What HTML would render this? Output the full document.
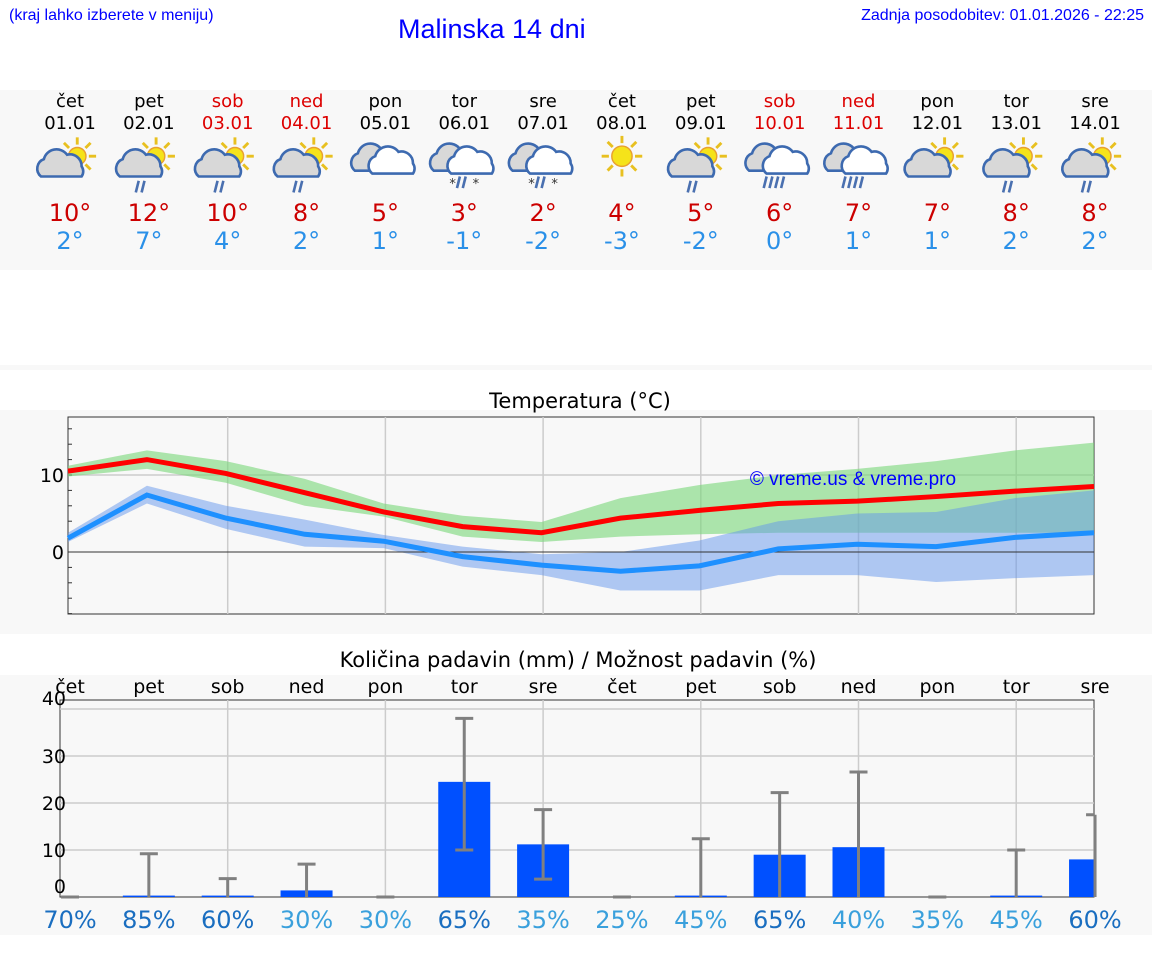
<!DOCTYPE html>
<html><head><meta charset="utf-8">
<style>
body{margin:0;width:1152px;height:975px;background:#fff;font-family:"DejaVu Sans","Liberation Sans",sans-serif;overflow:hidden;position:relative}
.abs{position:absolute}
</style></head>
<body>
<div class="abs" style="left:9px;top:7px;font-size:16px;color:#00f;font-family:'Liberation Sans',sans-serif">(kraj lahko izberete v meniju)</div>
<div class="abs" style="left:398px;top:14px;font-size:27px;color:#00f;font-family:'Liberation Sans',sans-serif">Malinska 14 dni</div>
<div class="abs" style="right:8px;top:7px;font-size:16px;color:#00f;font-family:'Liberation Sans',sans-serif">Zadnja posodobitev: 01.01.2026 - 22:25</div>
<svg class="abs" style="left:0;top:0" width="1152" height="975" id="svg"></svg>
<script>
const days=["čet","pet","sob","ned","pon","tor","sre","čet","pet","sob","ned","pon","tor","sre"];
const dates=["01.01","02.01","03.01","04.01","05.01","06.01","07.01","08.01","09.01","10.01","11.01","12.01","13.01","14.01"];
const weekend=[0,0,1,1,0,0,0,0,0,1,1,0,0,0];
const icons=["pc","pcr","pcr","pcr","c","cs","cs","s","pcr","cr","cr","pc","pcr","pcr"];
const hiLabel=[10,12,10,8,5,3,2,4,5,6,7,7,8,8];
const loLabel=[2,7,4,2,1,-1,-2,-3,-2,0,1,1,2,2];
const tMax=[10.5,12,10.2,7.7,5.2,3.3,2.5,4.4,5.4,6.3,6.6,7.2,7.9,8.5];
const tMin=[1.8,7.4,4.4,2.3,1.4,-0.6,-1.7,-2.5,-1.8,0.4,1.0,0.7,1.9,2.5];
const maxLo=[9.8,10.8,9,6,4.6,2,1.3,2,2.3,2.5,2.5,2.5,2.5,2.5];
const maxHi=[11.2,13.2,11.8,9.5,6.3,4.7,3.9,7,8.7,10,10.8,11.8,13.2,14.2];
const minLo=[1.3,6.3,3,0.7,0.5,-1.9,-3,-5,-5,-3,-3,-3.9,-3.4,-3];
const minHi=[2.5,8.6,6,4.2,2.2,0.7,-0.3,0,1.5,4,5,5.2,7,8];
const precip=[0,0.3,0.3,1.4,0,24.5,11.2,0,0.3,9,10.6,0,0.3,8];
const errHi=[0,9.2,3.9,7,0,38,18.6,0,12.4,22.2,26.6,0,10,17.5];
const errLo=[0,0,0,0,0,10,3.8,0,0,0,0,0,0,0];
const chance=[70,85,60,30,30,65,35,25,45,65,40,35,45,60];
const tTicks=[0,10];
const pTicks=[0,10,20,30,40];

const NS="http://www.w3.org/2000/svg",svg=document.getElementById('svg');
function mk(t,a,p){const e=document.createElementNS(NS,t);for(const k in a)e.setAttribute(k,a[k]);(p||svg).appendChild(e);return e;}
function txt(x,y,s,size,fill,anchor,p){const e=mk('text',{x:x,y:y,'font-size':size,fill:fill,'text-anchor':anchor||'middle','font-family':'DejaVu Sans, Liberation Sans, sans-serif'},p);e.textContent=s;return e;}
const dx=i=>70+i*78.85;
mk('rect',{x:0,y:90,width:1152,height:180,fill:'#f8f8f8'});
mk('rect',{x:0,y:365,width:1152,height:5,fill:'#f8f8f8'});
mk('rect',{x:0,y:410,width:1152,height:224,fill:'#f8f8f8'});
mk('rect',{x:0,y:675,width:1152,height:260,fill:'#f8f8f8'});
function sun(g,cx,cy,r){for(let k=0;k<8;k++){const a=k*Math.PI/4;mk('line',{x1:cx+Math.cos(a)*(r+2),y1:cy+Math.sin(a)*(r+2),x2:cx+Math.cos(a)*(r+7),y2:cy+Math.sin(a)*(r+7),stroke:'#e8c020','stroke-width':2},g);}mk('circle',{cx:cx,cy:cy,r:r,fill:'#f5e31a',stroke:'#e8a030','stroke-width':1},g);}
function cloud(g,cx,cy,fill){mk('path',{d:`M${cx-14},${cy+8} a7 7 0 0 1 2,-12 a9 9 0 0 1 16,-3 a8 8 0 0 1 10,8 a6 6 0 0 1 0,7 z`,fill:fill||'#d8d8d8',stroke:'#3d6ab0','stroke-width':1.8},g);}
function rain(g,cx,cy){for(let k=0;k<2;k++)mk('line',{x1:cx-1+k*4,y1:cy,x2:cx-3+k*4,y2:cy+8,stroke:'#4a70b0','stroke-width':1.8},g);}
for(let i=0;i<14;i++){
  const x=dx(i),col=weekend[i]?'#d00':'#000';
  const d=txt(x,107,days[i],18,col);
  const t=txt(x,129,dates[i],18,col);
  const g=mk('g',{transform:`translate(${x},162) scale(1.45)`});
  const ic=icons[i];
  if(ic=='s'){sun(g,0,-4,7);}
  else if(ic=='c'||ic=='cs'||ic=='cr'){cloud(g,-7,-2);cloud(g,5,0,'#fff');
    if(ic=='cs'){rain(g,-2,10);txt(-8,18,'*',9,'#333','middle',g);txt(8,18,'*',9,'#333','middle',g);}
    if(ic=='cr'){rain(g,-8,10);rain(g,0,10);}}
  else {sun(g,5,-4,6);cloud(g,-6,2);if(ic=='pcr')rain(g,-6,13);}
  const h=txt(x,221,hiLabel[i]+'°',24,'#c00');
  const l=txt(x,249,loLabel[i]+'°',24,'#2a90e8');
}
const tx=i=>68+i*(1094-68)/13, ty=v=>552-v*7.7;
txt(580,408,'Temperatura (°C)',21,'#000');
mk('rect',{x:68,y:417,width:1026,height:197,fill:'#f8f8f8',stroke:'#333','stroke-width':1});
for(let i=2;i<14;i+=2)mk('line',{x1:dx(i),y1:417,x2:dx(i),y2:614,stroke:'#ccc','stroke-width':1.5});
mk('line',{x1:68,y1:ty(10),x2:1094,y2:ty(10),stroke:'#ccc','stroke-width':1.5});
for(let v=-8;v<=16;v+=2)mk('line',{x1:68,y1:ty(v),x2:72,y2:ty(v),stroke:'#333'});
tTicks.forEach(v=>{txt(64,ty(v)+7,String(v),19,'#000','end');});
function band(lo,hi,fill,name){let d='M';for(let i=0;i<14;i++)d+=tx(i)+','+ty(hi[i])+' L';for(let i=13;i>=0;i--)d+=tx(i)+','+ty(lo[i])+(i?' L':' Z');const p=mk('path',{d:d,fill:fill});}
band(maxLo,maxHi,'rgba(120,215,120,0.6)','max-temp-range');
band(minLo,minHi,'rgba(100,150,235,0.5)','min-temp-range');
mk('line',{x1:68,y1:ty(0),x2:1094,y2:ty(0),stroke:'#333','stroke-width':1});
function line(v,c,name){const p=mk('polyline',{points:v.map((y,i)=>tx(i)+','+ty(y)).join(' '),fill:'none',stroke:c,'stroke-width':5});}
line(tMin,'#1e90ff','min-temp-line');line(tMax,'#f00','max-temp-line');
const wm=txt(853,485,'© vreme.us & vreme.pro',19,'#00f');wm.setAttribute('font-family','Liberation Sans, sans-serif');
const py=v=>897-v*4.7;
txt(578,667,'Količina padavin (mm) / Možnost padavin (%)',21,'#000');
mk('rect',{x:60,y:700,width:1034,height:197,fill:'#f8f8f8',stroke:'#333','stroke-width':1});
[10,20,30,40].forEach(v=>mk('line',{x1:60,y1:py(v),x2:1094,y2:py(v),stroke:'#ccc','stroke-width':1.5}));
for(let i=2;i<14;i+=2)mk('line',{x1:dx(i),y1:700,x2:dx(i),y2:897,stroke:'#ccc','stroke-width':1.5});
pTicks.forEach(v=>{txt(66,(v==0?py(v)-4:v==40?py(v)-4:py(v)+7),String(v),19,'#000','end');});
for(let i=0;i<14;i++){
  const x=dx(i);
  const dn=txt(x,693,days[i],19,'#000');
  const hgt=precip[i]*4.7;
  let bx=x-26,bw=52;if(bx+bw>1094)bw=1094-bx;if(bx<60){bw-=60-bx;bx=60;}
  const b=mk('rect',{x:bx,y:897-hgt,width:bw,height:hgt,fill:'#0050ff'});
  const e=mk('g',{stroke:'#808080','stroke-width':3});
  mk('line',{x1:x,y1:py(errLo[i]),x2:x,y2:py(errHi[i])},e);
  mk('line',{x1:Math.max(60,x-9),y1:py(errHi[i]),x2:Math.min(1094,x+9),y2:py(errHi[i])},e);
  if(errLo[i]>0)mk('line',{x1:x-9,y1:py(errLo[i]),x2:x+9,y2:py(errLo[i])},e);
  const c=txt(x,928,chance[i]+'%',24,chance[i]>=50?'#1a6ec0':'#3aa0dc');
}
</script>
</body></html>
